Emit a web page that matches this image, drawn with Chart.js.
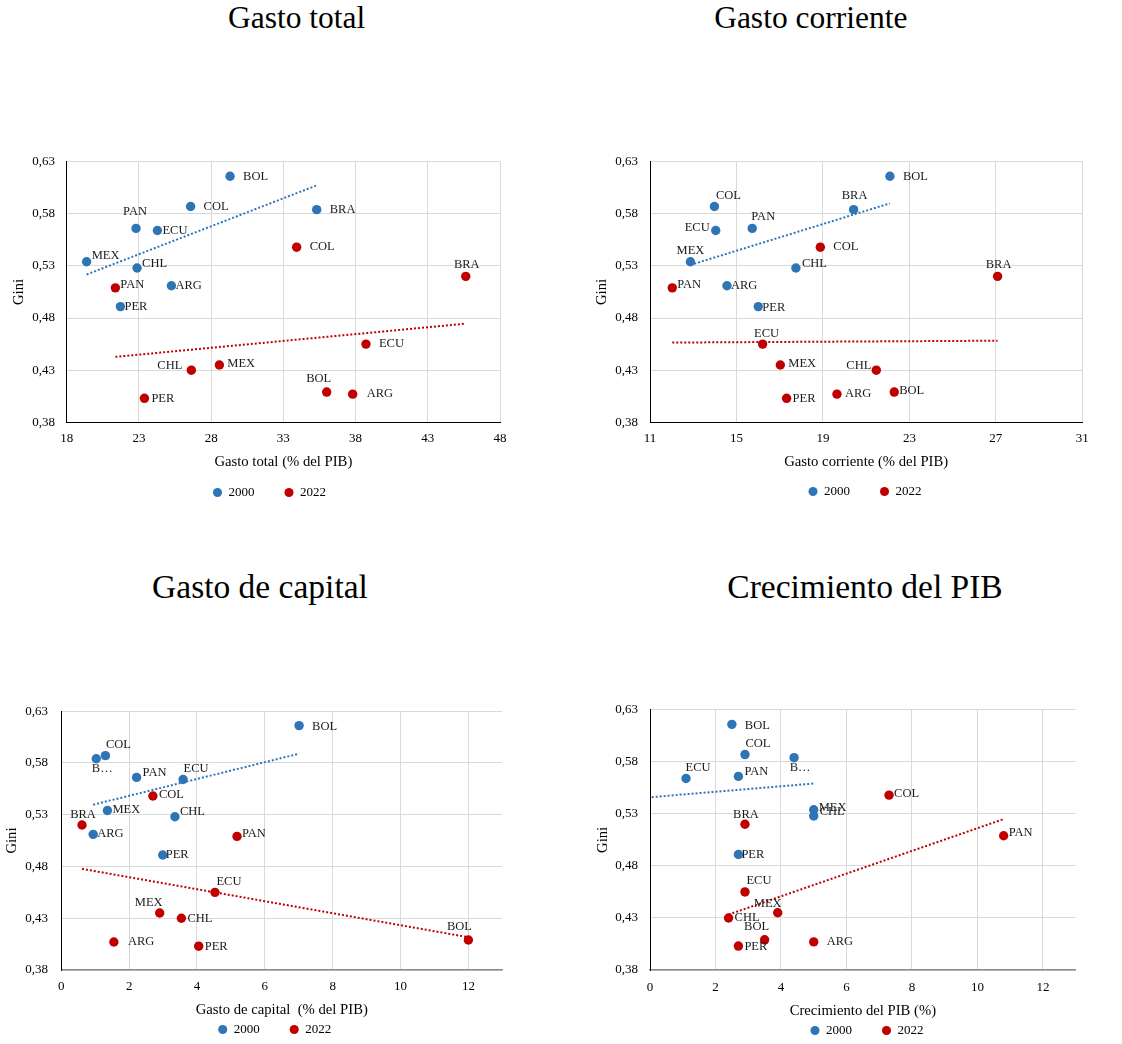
<!DOCTYPE html>
<html lang="es">
<head>
<meta charset="utf-8">
<title>Desigualdad y gasto público</title>
<script src="https://cdn.jsdelivr.net/npm/chart.js@4/dist/chart.umd.min.js"></script>
<style>
  html, body { margin: 0; padding: 0; background: #fff; overflow: hidden; }
  body { width: 1122px; height: 1044px; position: relative; font-family: 'Liberation Serif', 'Times New Roman', serif; }
  .ttl { position: absolute; width: 400px; text-align: center; color: #000; white-space: nowrap; }
  canvas { position: absolute; }
</style>
</head>
<body>
<div class="ttl" style="left:96.7px;top:1.9px;font-size:31.5px;line-height:31.5px">Gasto total</div>
<div class="ttl" style="left:610.8px;top:1.9px;font-size:31.5px;line-height:31.5px">Gasto corriente</div>
<div class="ttl" style="left:60px;top:570.2px;font-size:33.5px;line-height:33.5px">Gasto de capital</div>
<div class="ttl" style="left:665px;top:570.2px;font-size:33.5px;line-height:33.5px">Crecimiento del PIB</div>

<canvas id="c1" width="540" height="369" style="left:0px;top:140px"></canvas>
<canvas id="c2" width="562" height="368" style="left:560px;top:140px"></canvas>
<canvas id="c3" width="540" height="356" style="left:0px;top:690px"></canvas>
<canvas id="c4" width="562" height="357" style="left:560px;top:690px"></canvas>

<script>
// ---- Datos ----
const paises = ['ARG', 'BOL', 'BRA', 'CHL', 'COL', 'ECU', 'MEX', 'PAN', 'PER'];
const gini2000 = [0.511, 0.616, 0.584, 0.528, 0.587, 0.564, 0.534, 0.566, 0.491];
const gini2022 = [0.407, 0.409, 0.520, 0.430, 0.548, 0.455, 0.435, 0.509, 0.403];

const gastoTotal2000 = [25.25, 29.31, 35.31, 22.87, 26.58, 24.28, 19.38, 22.80, 21.72];
const gastoTotal2022 = [37.80, 36.00, 45.63, 26.63, 33.92, 38.72, 28.57, 21.37, 23.38];

const gastoCorriente2000 = [14.56, 22.10, 20.42, 17.75, 13.98, 14.04, 12.87, 15.73, 16.01];
const gastoCorriente2022 = [19.65, 22.30, 27.08, 21.47, 18.88, 16.21, 17.03, 12.03, 17.32];

const gastoCapital2000 = [0.94, 7.01, 1.03, 3.35, 1.30, 3.59, 1.36, 2.22, 2.99];
const gastoCapital2022 = [1.55, 12.00, 0.61, 3.54, 2.70, 4.53, 2.90, 5.18, 4.05];

const crecimiento2000 = [-0.8, 2.5, 4.4, 5.0, 2.9, 1.1, 5.0, 2.7, 2.7];
const crecimiento2022 = [5.0, 3.5, 2.9, 2.4, 7.3, 2.9, 3.9, 10.8, 2.7];

const ticksGini = [0.38, 0.43, 0.48, 0.53, 0.58, 0.63];
const ticksGastoTotal = [18, 23, 28, 33, 38, 43, 48];
const ticksGastoCorriente = [11, 15, 19, 23, 27, 31];
const ticksGastoCapital = [0, 2, 4, 6, 8, 10, 12];
const ticksCrecimiento = [0, 2, 4, 6, 8, 10, 12];

// Etiquetas abreviadas donde el rótulo no cabe
const etiquetasCortas = paises.map(p => p === 'BRA' ? 'B…' : p);

// ---- Ubicación de los rótulos de país: [alineación, dx, dy] en el orden de `paises` ----
const rotulos = {
  total: {
    a: [['l',4,0],['l',13,0],['l',13,0],['l',5,-4],['l',13,0],['l',5,0],['l',5,-6],['c',-1,-17],['l',4,0]],
    b: [['l',14,0],['c',-8,-13],['c',1,-12],['r',-9,-4],['l',13,0],['l',13,0],['l',8,-1],['l',5,-3],['l',7,0]]
  },
  corriente: {
    a: [['l',4,0],['l',13,0],['c',1,-14],['l',6,-4],['c',14,-11],['r',-6,-3],['c',0,-11],['c',11,-12],['l',4,1]],
    b: [['l',8,0],['l',5,-1],['c',1,-12],['r',-5,-4],['l',13,0],['c',4,-10],['l',8,-1],['l',5,-3],['l',6,0]]
  },
  capital: {
    a: [['l',4,-1],['l',13,1],['c',6,10],['l',5,-5],['c',13,-11],['c',13,-11],['l',5,-1],['l',6,-5],['l',3,0]],
    b: [['l',14,0],['c',-9,-13],['c',1,-10],['l',6,0],['l',6,-1],['c',14,-11],['c',-11,-10],['l',5,-3],['l',6,1]]
  },
  crecimiento: {
    a: [['l',4,0],['l',13,1],['c',6,10],['l',6,-4],['c',13,-11],['c',12,-11],['l',5,-2],['l',6,-5],['l',3,0]],
    b: [['l',13,0],['c',-8,-13],['c',1,-10],['l',6,0],['l',5,-1],['c',14,-11],['c',-10,-9],['l',5,-3],['l',6,1]]
  }
};

const AZUL = '#2E75B6';
const ROJO = '#C00000';

Chart.defaults.font.family = "'Liberation Serif', 'Times New Roman', serif";
Chart.defaults.color = '#000';

// Recta de mínimos cuadrados entre el menor y el mayor valor de x
function tendencia(xs, ys) {
  const n = xs.length;
  const mx = xs.reduce((s, v) => s + v, 0) / n;
  const my = ys.reduce((s, v) => s + v, 0) / n;
  let sxy = 0, sxx = 0;
  for (let i = 0; i < n; i++) { sxy += (xs[i] - mx) * (ys[i] - my); sxx += (xs[i] - mx) ** 2; }
  const b = sxy / sxx, a = my - b * mx;
  const x0 = Math.min(...xs), x1 = Math.max(...xs);
  return [{ x: x0, y: a + b * x0 }, { x: x1, y: a + b * x1 }];
}

const puntos = (xs, ys) => xs.map((x, i) => ({ x, y: ys[i] }));

// Rótulos de país junto a cada punto visible
const rotulosPais = {
  id: 'rotulosPais',
  afterDatasetsDraw(chart) {
    const { ctx, scales: { x, y } } = chart;
    ctx.save();
    ctx.font = "12.5px 'Liberation Serif', 'Times New Roman', serif";
    ctx.fillStyle = '#1a1a1a';
    ctx.textBaseline = 'middle';
    chart.data.datasets.forEach((ds, di) => {
      if (!ds.nombres) return;
      const meta = chart.getDatasetMeta(di);
      meta.data.forEach((el, i) => {
        const v = ds.data[i];
        if (v.x < x.min || v.x > x.max || v.y < y.min || v.y > y.max) return;
        const [al, dx, dy] = ds.ubicacion[i];
        ctx.textAlign = al === 'l' ? 'left' : al === 'r' ? 'right' : 'center';
        ctx.fillText(ds.nombres[i], el.x + dx, el.y + dy);
      });
    });
    ctx.restore();
  }
};

function panel(cfg) {
  const serieA = puntos(cfg.x2000, gini2000);
  const serieB = puntos(cfg.x2022, gini2022);
  const g = cfg.geo;
  return new Chart(document.getElementById(cfg.id), {
    type: 'scatter',
    data: {
      datasets: [
        { label: '2000', data: serieA, backgroundColor: AZUL, borderColor: AZUL, borderWidth: 0,
          pointRadius: 4.7, pointHoverRadius: 4.7, pointStyle: 'circle',
          nombres: cfg.nombres2000 || paises, ubicacion: cfg.rot.a, order: 2 },
        { label: '2022', data: serieB, backgroundColor: ROJO, borderColor: ROJO, borderWidth: 0,
          pointRadius: 4.7, pointHoverRadius: 4.7, pointStyle: 'circle',
          nombres: paises, ubicacion: cfg.rot.b, order: 2 },
        { label: 'Tendencia 2000', data: tendencia(cfg.x2000, gini2000), showLine: true,
          borderColor: AZUL, borderWidth: 2, borderDash: [2, 2], pointRadius: 0, fill: false, order: 1 },
        { label: 'Tendencia 2022', data: tendencia(cfg.x2022, gini2022), showLine: true,
          borderColor: ROJO, borderWidth: 2, borderDash: [2, 2], pointRadius: 0, fill: false, order: 1 }
      ]
    },
    options: {
      responsive: false,
      animation: false,
      devicePixelRatio: 1,
      events: [],
      layout: { padding: { left: g.pl, right: g.pr, top: g.pt, bottom: 0 } },
      scales: {
        x: {
          type: 'linear', min: cfg.xmin, max: cfg.xmax,
          afterBuildTicks: s => { s.ticks = cfg.xticks.map(v => ({ value: v })); },
          afterFit: s => { s.height = g.xH; },
          grid: { color: '#d9d9d9', lineWidth: 1, drawTicks: false },
          border: { color: g.xBorder, width: g.xBorderW },
          ticks: { padding: g.xpad, font: { size: 13 }, color: '#000', callback: v => String(v) },
          title: { display: true, text: cfg.xTitulo, font: { size: 14.7 }, color: '#000',
                   padding: { top: 0, bottom: g.ptb } }
        },
        y: {
          type: 'linear', min: 0.38, max: 0.63,
          afterBuildTicks: s => { s.ticks = ticksGini.map(v => ({ value: v })); },
          afterFit: s => { s.width = g.yW; },
          grid: { color: '#d9d9d9', lineWidth: 1, drawTicks: false },
          border: { color: '#000', width: 1 },
          ticks: { padding: g.ypad, font: { size: 13 }, color: '#000',
                   callback: v => v.toFixed(2).replace('.', ',') },
          title: { display: true, text: 'Gini', font: { size: 14.7 }, color: '#000',
                   padding: { top: g.ptt, bottom: 0 } }
        },
        // margen derecho vacío: reserva espacio sin dibujar nada
        margenDer: {
          type: 'linear', axis: 'y', position: 'right', min: 0, max: 1,
          afterFit: s => { s.width = g.w2; },
          grid: { display: false, drawOnChartArea: false, drawTicks: false },
          border: { display: false },
          ticks: { display: false }
        }
      },
      plugins: {
        tooltip: { enabled: false },
        legend: {
          position: 'bottom',
          labels: {
            usePointStyle: true, pointStyle: 'circle', boxWidth: 9, boxHeight: 6.4,
            padding: 30, font: { size: 13 }, color: '#000',
            filter: item => item.datasetIndex < 2
          }
        }
      }
    },
    plugins: [rotulosPais]
  });
}

panel({
  id: 'c1', x2000: gastoTotal2000, x2022: gastoTotal2022, xmin: 18, xmax: 48,
  xticks: ticksGastoTotal, xTitulo: 'Gasto total (% del PIB)', rot: rotulos.total,
  geo: { pl: 30.7, pr: 31.7, w2: 8.3, pt: 21.7, yW: 36, xH: 33.7, ptt: -20.5, ypad: 11.7, ptb: -14.8, xpad: 8.9, xBorder: '#000', xBorderW: 1 }
});
panel({
  id: 'c2', x2000: gastoCorriente2000, x2022: gastoCorriente2022, xmin: 11, xmax: 31,
  xticks: ticksGastoCorriente, xTitulo: 'Gasto corriente (% del PIB)', rot: rotulos.corriente,
  geo: { pl: 52, pr: 4, w2: 35.7, pt: 21.7, yW: 38, xH: 32.7, ptt: -18.8, ypad: 12, ptb: -16.1, xpad: 8.9, xBorder: '#000', xBorderW: 1 }
});
panel({
  id: 'c3', x2000: gastoCapital2000, x2022: gastoCapital2022, xmin: 0, xmax: 13,
  xticks: ticksGastoCapital, xTitulo: 'Gasto de capital  (% del PIB)', rot: rotulos.capital,
  nombres2000: etiquetasCortas,
  geo: { pl: 22.3, pr: 12.9, w2: 24.8, pt: 19, yW: 39, xH: 23, ptt: -18.8, ypad: 13.3, ptb: -25.8, xpad: 8.9, xBorder: '#8c8c8c', xBorderW: 1.5 }
});
panel({
  id: 'c4', x2000: crecimiento2000, x2022: crecimiento2022, xmin: 0, xmax: 13,
  xticks: ticksCrecimiento, xTitulo: 'Crecimiento del PIB (%)', rot: rotulos.crecimiento,
  nombres2000: etiquetasCortas,
  geo: { pl: 52, pr: 0, w2: 46.3, pt: 19, yW: 38, xH: 24, ptt: -17.8, ypad: 12, ptb: -25.5, xpad: 9.5, xBorder: '#8c8c8c', xBorderW: 1.5 }
});
</script>
</body>
</html>
